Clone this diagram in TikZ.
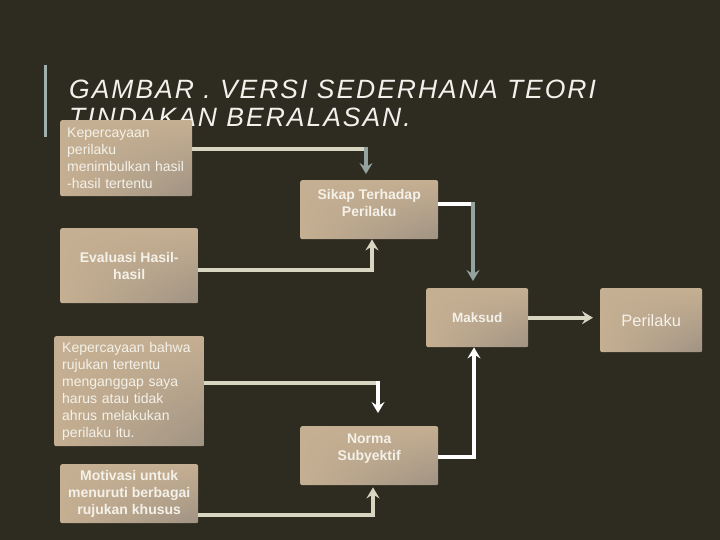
\documentclass[tikz,border=0pt]{standalone}
\usepackage{fontspec}
\setmainfont{Liberation Sans}
\newfontfamily\titlefont[LetterSpace=7.5]{Liberation Sans}
\usetikzlibrary{arrows.meta,shadings}
\definecolor{bgc}{HTML}{2E2B21}
\definecolor{boxtan}{HTML}{C5AF92}
\definecolor{boxdark}{HTML}{A09383}
\definecolor{txtc}{HTML}{F4F1E8}
\definecolor{beigec}{HTML}{D8D5C0}
\definecolor{greyc}{HTML}{94A39F}
\definecolor{barc}{HTML}{9FB0AE}
\definecolor{titlec}{HTML}{F2F1EC}
\begin{document}
\begin{tikzpicture}[x=1pt,y=-1pt,
  box/.style={shade, upper left=boxtan, upper right=boxtan, lower left=boxtan,
    lower right=boxdark, rounded corners=2pt, anchor=north west,
    inner xsep=0pt, inner ysep=0pt, text=txtc},
  regtext/.style={font=\fontsize{14}{17}\selectfont, align=left},
  boldtext/.style={font=\fontsize{14}{17}\selectfont\bfseries, align=center, text=txtc},
  conn/.style={line width=4pt},
  tipx/.style={-{Stealth[length=11pt,width=13pt,inset=4pt]}},
  titletext/.style={font=\titlefont\itshape\fontsize{26.5}{28}\selectfont, text=titlec, anchor=base west, inner sep=0pt}
]
\fill[bgc] (0,0) rectangle (720,540);
\useasboundingbox (0,0) rectangle (720,540);

% title and bar
\fill[barc] (44,65) rectangle (47,137);
\node[titletext] (title1) at (69,99) {GAMBAR . VERSI SEDERHANA TEORI};
\node[titletext] (title2) at (69,127) {TINDAKAN BERALASAN.};

% boxes
\node[box, regtext, minimum width=132pt, minimum height=76pt, text width=118pt] (kp) at (60,120)
  {Kepercayaan\\perilaku\\menimbulkan hasil\\-hasil tertentu};
\node[box, minimum width=138pt, minimum height=59pt] (sikap) at (300,180) {};
\node[boldtext] (sikapt) at ([yshift=7pt]sikap.center) {Sikap Terhadap\\Perilaku};
\node[box, boldtext, minimum width=138pt, minimum height=75pt] (eval) at (60,228) {Evaluasi Hasil-\\hasil};
\node[box, boldtext, minimum width=102pt, minimum height=59pt, font=\fontsize{13.5}{17}\selectfont\bfseries] (maksud) at (426,288) {Maksud};
\node[box, minimum width=102pt, minimum height=64pt, font=\fontsize{16.5}{19}\selectfont] (perilaku) at (600,288) {Perilaku};
\node[box, regtext, minimum width=150pt, minimum height=110pt, text width=134pt] (kb) at (54,336)
  {Kepercayaan bahwa\\rujukan tertentu\\menganggap saya\\harus atau tidak\\ahrus melakukan\\perilaku itu.};
\node[box, minimum width=138pt, minimum height=59pt] (norma) at (300,426) {};
\node[boldtext] (normat) at ([yshift=7pt]norma.center) {Norma\\Subyektif};
\node[box, boldtext, minimum width=138pt, minimum height=59pt] (motiv) at (60,464)
  {Motivasi untuk\\menuruti berbagai\\rujukan khusus};

% connectors
\coordinate (c1) at (366,149);
\draw[conn, beigec] (kp.east |- c1) -- ([xshift=2pt]c1);
\draw[conn, greyc, tipx, shorten >=6pt] ([yshift=2pt]c1) -- (c1 |- sikap.north);

\coordinate (c2) at (372,270);
\draw[conn, beigec, tipx] (eval.east |- c2) -- (c2) -- (c2 |- sikap.south);

\coordinate (c3) at (473,204);
\draw[conn, white] (sikap.east |- c3) -- ([xshift=2pt]c3);
\draw[conn, greyc, tipx, shorten >=7pt] ([yshift=2pt]c3) -- (c3 |- maksud.north);

\draw[conn, beigec, tipx, shorten >=7pt] (maksud.east) -- (maksud.east -| perilaku.west);

\coordinate (c5) at (378,383);
\draw[conn, beigec] (kb.east |- c5) -- ([xshift=2pt]c5);
\draw[conn, white, tipx, shorten >=13pt] ([yshift=2pt]c5) -- (c5 |- norma.north);

\coordinate (c6) at (373,515);
\draw[conn, beigec, tipx, shorten >=2pt] (motiv.east |- c6) -- (c6) -- (c6 |- norma.south);

\coordinate (c7) at (474,457);
\draw[conn, white, tipx] (norma.east |- c7) -- (c7) -- (c7 |- maksud.south);
\end{tikzpicture}
\end{document}
